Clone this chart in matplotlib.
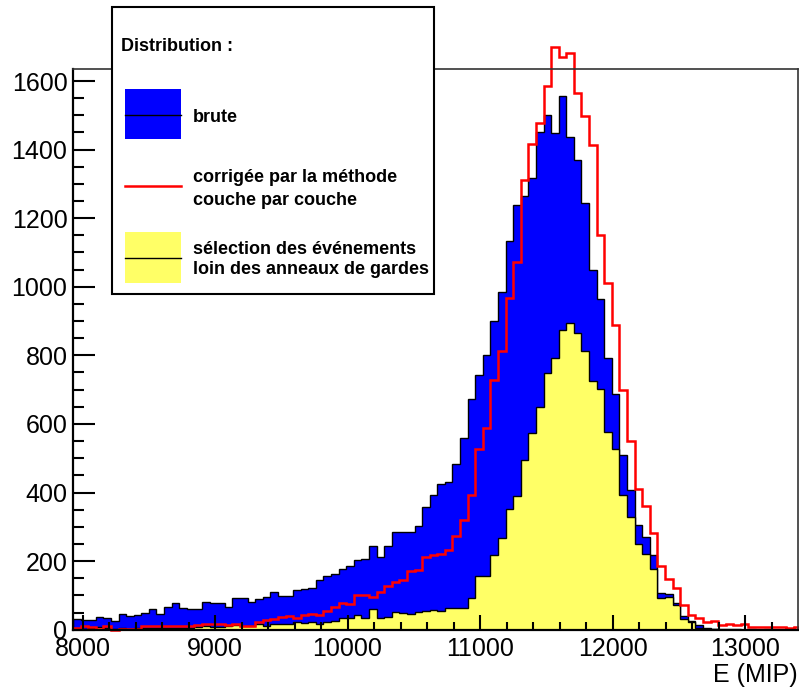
import numpy as np
import matplotlib as mpl
mpl.use("Agg")
import matplotlib.pyplot as plt
from matplotlib.patches import Rectangle
from matplotlib.lines import Line2D
from matplotlib.ticker import MultipleLocator

plt.rcParams["font.family"] = ["Liberation Sans", "DejaVu Sans"]

# binning (MIP)
x_lo = 7928.0
bin_w = 57.28
n_bins = 96

# counts per bin
brute = [30, 29, 28, 37, 33, 26, 45, 40, 42, 50, 60, 45, 65, 79, 62, 59,
         59, 82, 78, 78, 66, 91, 92, 80, 89, 96, 110, 99, 99, 115, 118, 123,
         144, 157, 161, 178, 185, 203, 206, 244, 212, 244, 285, 285, 285, 303,
         359, 393, 424, 431, 483, 560, 672, 744, 802, 899, 985, 1133, 1238,
         1264, 1318, 1450, 1500, 1447, 1556, 1437, 1369, 1243, 1048, 963, 792,
         686, 509, 406, 305, 269, 217, 108, 105, 79, 40, 26, 13, 5, 3, 2, 1,
         1, 0, 1, 0, 1, 0, 0, 1, 0]

corrigee = [5, 10, 8, 3, 10, 0, 3, 2, 3, 10, 10, 10, 10, 10, 10, 10,
            13, 18, 16, 16, 13, 18, 11, 11, 23, 28, 31, 37, 39, 34, 42, 47,
            43, 54, 65, 79, 74, 101, 101, 94, 110, 127, 139, 146, 171, 175,
            212, 217, 220, 232, 273, 321, 392, 528, 587, 727, 813, 966, 1072,
            1312, 1415, 1477, 1585, 1699, 1670, 1683, 1565, 1497, 1412, 1150,
            1011, 889, 698, 550, 410, 361, 283, 186, 149, 123, 71, 42, 33, 23,
            26, 13, 18, 13, 18, 8, 8, 7, 8, 7, 6, 7]

selection = [3, 3, 5, 8, 4, 2, 4, 3, 4, 4, 4, 5, 5, 5, 5, 6,
             8, 12, 8, 8, 10, 14, 10, 11, 16, 11, 16, 18, 18, 23, 20, 23,
             18, 23, 26, 34, 35, 42, 35, 59, 35, 37, 52, 50, 45, 52,
             54, 57, 55, 64, 64, 64, 91, 157, 157, 217, 266, 353, 390,
             496, 575, 648, 749, 791, 873, 894, 865, 813, 725, 703, 577,
             528, 392, 329, 251, 220, 178, 91, 94, 71, 31, 21, 6, 2,
             1, 0, 0, 0, 0, 0, 0, 0, 0, 0, 0, 0]

x_ticks = [8000, 9000, 10000, 11000, 12000, 13000]
y_ticks = [0, 200, 400, 600, 800, 1000, 1200, 1400, 1600]

edges = x_lo + bin_w * np.arange(n_bins + 1)

W, H = 799, 690
fig = plt.figure(figsize=(W / 100, H / 100), dpi=100)


def fx(px):
    return px / W


def fy(py):
    return 1 - py / H


ax = fig.add_axes([fx(73), fy(629.7), (797.5 - 73) / W, (629.7 - 69) / H])

ax.stairs(brute, edges, fill=True, facecolor="#0000ff", edgecolor="black",
          linewidth=1.0, zorder=1.0)
ax.stairs(selection, edges, fill=True, facecolor="#ffff66", edgecolor="black",
          linewidth=1.0, zorder=1.2)
ax.stairs(corrigee, edges, color="#ff0000", linewidth=1.8, zorder=1.4,
          clip_on=False)

ax.set_xlim(7928, 13396)
ax.set_ylim(0, 1635)
ax.set_xticks(x_ticks)
ax.set_yticks(y_ticks)
ax.xaxis.set_minor_locator(MultipleLocator(200))
ax.yaxis.set_minor_locator(MultipleLocator(50))
ax.set_axisbelow(False)

ax.tick_params(axis="both", which="both", direction="in", top=False,
               right=False, width=1.5, colors="black", labelsize=18)
ax.tick_params(axis="y", which="major", length=16, pad=4)
ax.tick_params(axis="y", which="minor", length=8)
ax.tick_params(axis="x", which="major", length=11, pad=5)
ax.tick_params(axis="x", which="minor", length=5.5)

for side in ["left", "bottom"]:
    ax.spines[side].set_linewidth(1.6)
for side in ["top", "right"]:
    ax.spines[side].set_linewidth(1.2)
    ax.spines[side].set_color("#333333")

ax.set_xlabel("E (MIP)", loc="right", fontsize=18, labelpad=2)

# legend box
fig.add_artist(Rectangle((fx(112), fy(294)), (434 - 112) / W, (294 - 7) / H,
                         transform=fig.transFigure, facecolor="white",
                         edgecolor="black", linewidth=1.5, zorder=5))
fig.add_artist(Rectangle((fx(125), fy(139)), (181 - 125) / W, (139 - 89) / H,
                         transform=fig.transFigure, facecolor="#0000ff",
                         edgecolor="none", zorder=6))
fig.add_artist(Line2D([fx(125), fx(181)], [fy(114.5), fy(114.5)],
                      transform=fig.transFigure, color="black", lw=1.0, zorder=7))
fig.add_artist(Line2D([fx(125), fx(181)], [fy(186), fy(186)],
                      transform=fig.transFigure, color="#ff0000", lw=1.8, zorder=7))
fig.add_artist(Rectangle((fx(125), fy(283)), (181 - 125) / W, (283 - 232) / H,
                         transform=fig.transFigure, facecolor="#ffff66",
                         edgecolor="none", zorder=6))
fig.add_artist(Line2D([fx(125), fx(181)], [fy(258), fy(258)],
                      transform=fig.transFigure, color="black", lw=1.0, zorder=7))

leg_texts = [
    (121, 50.7, "Distribution :"),
    (193, 122.3, "brute"),
    (193, 181.7, "corrigée par la méthode"),
    (193, 205, "couche par couche"),
    (193, 254, "sélection des événements"),
    (193, 274, "loin des anneaux de gardes"),
]
for x, y, s in leg_texts:
    fig.text(fx(x), fy(y), s, fontsize=13, fontweight="bold", ha="left",
             va="baseline", zorder=8)

fig.savefig("out.png", dpi=100)
